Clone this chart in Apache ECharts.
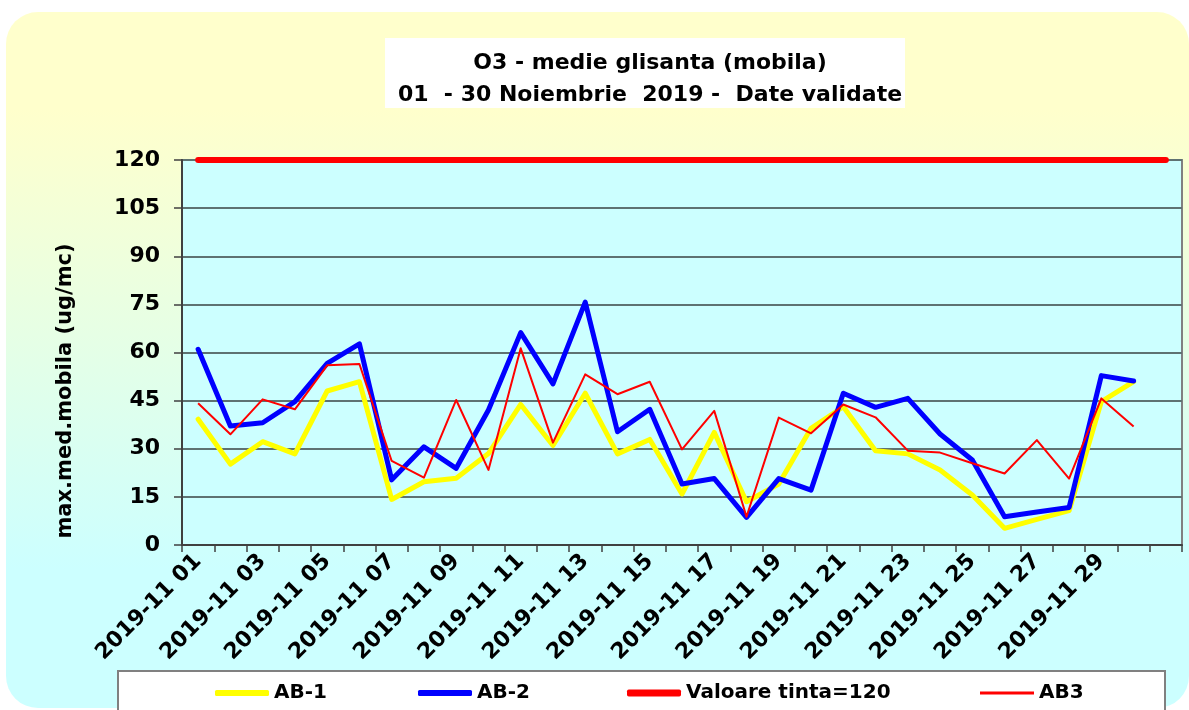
<!DOCTYPE html>
<html>
<head>
<meta charset="utf-8">
<script src="https://cdn.jsdelivr.net/npm/echarts@6/dist/echarts.min.js"></script>
<style>
  html, body { margin: 0; padding: 0; background: #ffffff; }
  #main { width: 1189px; height: 710px; }
</style>
</head>
<body>
<div id="main"></div>
<script>
// zilele din noiembrie (ultima pozitie ramane goala, ca in grafic)
const days = [
  '2019-11 01', '2019-11 02', '2019-11 03', '2019-11 04', '2019-11 05', '2019-11 06',
  '2019-11 07', '2019-11 08', '2019-11 09', '2019-11 10', '2019-11 11', '2019-11 12',
  '2019-11 13', '2019-11 14', '2019-11 15', '2019-11 16', '2019-11 17', '2019-11 18',
  '2019-11 19', '2019-11 20', '2019-11 21', '2019-11 22', '2019-11 23', '2019-11 24',
  '2019-11 25', '2019-11 26', '2019-11 27', '2019-11 28', '2019-11 29', '2019-11 30', ''
];

// max. medie mobila (ug/mc) pe statii
const ab1 = [39.2, 25.2, 32.2, 28.4, 48.0, 50.9, 14.2, 19.7, 20.8, 28.5,
             43.8, 31.0, 47.3, 28.4, 32.9, 15.9, 35.1, 13.5, 19.0, 36.4,
             43.1, 29.4, 28.4, 23.4, 15.6, 5.2, 8.0, 10.7, 44.7, 50.9];
const ab2 = [61.0, 37.1, 38.1, 44.7, 56.6, 62.7, 20.3, 30.6, 23.9, 42.1,
             66.2, 50.2, 75.7, 35.3, 42.3, 19.0, 20.7, 8.6, 20.7, 17.1,
             47.3, 42.9, 45.7, 34.6, 26.5, 8.8, 10.3, 11.7, 52.8, 51.1];
const ab3 = [44.2, 34.5, 45.4, 42.3, 56.0, 56.4, 26.2, 21.0, 45.2, 23.4,
             61.3, 31.9, 53.2, 47.0, 50.9, 29.8, 41.8, 8.8, 39.7, 34.8,
             43.8, 39.8, 29.4, 28.8, 25.5, 22.3, 32.7, 20.7, 45.7, 36.9];
// valoare tinta
const tinta = [120, 120, 120, 120, 120, 120, 120, 120, 120, 120,
               120, 120, 120, 120, 120, 120, 120, 120, 120, 120,
               120, 120, 120, 120, 120, 120, 120, 120, 120, 120, 120];

const FONT = 'DejaVu Sans';

const chart = echarts.init(document.getElementById('main'));

const legendText = { fontFamily: FONT, fontWeight: 'bold', fontSize: 20, color: '#000' };
const makeLegend = (name, left, h, icon) => ({
  data: [name],
  left: left,
  top: 678,
  icon: icon,
  itemWidth: 54,
  itemHeight: h,
  itemStyle: { borderWidth: 0 },
  textStyle: legendText,
  z: 20
});

const option = {
  animation: false,
  backgroundColor: 'transparent',
  title: {
    text: 'O3 - medie glisanta (mobila)\n01  - 30 Noiembrie  2019 -  Date validate',
    left: 645,
    top: 42,
    textAlign: 'center',
    textStyle: { fontFamily: FONT, fontWeight: 'bold', fontSize: 22, lineHeight: 32, color: '#000' },
    z: 20
  },
  graphic: [
    {
      // fundalul rotunjit (galben -> turcoaz)
      type: 'rect', z: -100, silent: true,
      shape: { x: 6, y: 12, width: 1183, height: 696, r: 32 },
      style: {
        fill: new echarts.graphic.LinearGradient(0, 0, 0, 1, [
          { offset: 0, color: '#FFFFCC' },
          { offset: 0.14, color: '#FFFFCC' },
          { offset: 0.8, color: '#CCFFFF' },
          { offset: 1, color: '#CCFFFF' }
        ])
      }
    },
    {
      // caseta titlului
      type: 'rect', z: 5, silent: true,
      shape: { x: 385, y: 38, width: 520, height: 70 },
      style: { fill: '#ffffff' }
    },
    {
      // caseta legendei
      type: 'rect', z: 5, silent: true,
      shape: { x: 118, y: 671, width: 1047, height: 60 },
      style: { fill: '#ffffff', stroke: '#808080', lineWidth: 2 }
    },
    {
      // titlul axei Y
      type: 'text', z: 20, silent: true,
      x: 66, y: 391, rotation: Math.PI / 2,
      style: {
        text: 'max.med.mobila (ug/mc)',
        fontFamily: FONT, fontWeight: 'bold', fontSize: 21, fill: '#000',
        align: 'center', verticalAlign: 'middle'
      }
    }
  ],
  legend: [
    makeLegend('AB-1', 210, 6, 'roundRect'),
    makeLegend('AB-2', 413, 6, 'roundRect'),
    makeLegend('Valoare tinta=120', 622, 7, 'roundRect'),
    makeLegend('AB3', 975, 3, 'rect')
  ],
  grid: {
    left: 182,
    right: 7,
    top: 160,
    bottom: 165,
    show: true,
    backgroundColor: '#CCFFFF',
    borderColor: '#808080',
    borderWidth: 2
  },
  xAxis: {
    type: 'category',
    data: days,
    boundaryGap: true,
    axisLine: { lineStyle: { color: '#404040', width: 2 } },
    axisTick: { show: true, interval: 0, length: 7, lineStyle: { color: '#404040', width: 1.5 } },
    axisLabel: {
      interval: 1,
      rotate: 45,
      margin: 13,
      fontFamily: FONT,
      fontWeight: 'bold',
      fontSize: 22,
      color: '#000'
    }
  },
  yAxis: {
    type: 'value',
    min: 0,
    max: 120,
    interval: 15,
    axisLine: { show: true, lineStyle: { color: '#404040', width: 2 } },
    axisTick: { show: true, length: 8, lineStyle: { color: '#404040', width: 1.5 } },
    axisLabel: { margin: 22, fontFamily: FONT, fontWeight: 'bold', fontSize: 22, color: '#000' },
    splitLine: { show: true, lineStyle: { color: '#5E7272', width: 2 } }
  },
  series: [
    {
      name: 'AB-1', type: 'line', data: ab1,
      showSymbol: false, symbol: 'none',
      color: '#FFFF00',
      lineStyle: { color: '#FFFF00', width: 5, cap: 'round', join: 'round' }
    },
    {
      name: 'AB-2', type: 'line', data: ab2,
      showSymbol: false, symbol: 'none',
      color: '#0000FF',
      lineStyle: { color: '#0000FF', width: 5, cap: 'round', join: 'round' }
    },
    {
      name: 'Valoare tinta=120', type: 'line', data: tinta,
      showSymbol: false, symbol: 'none',
      color: '#FF0000',
      lineStyle: { color: '#FF0000', width: 6, cap: 'round' }
    },
    {
      name: 'AB3', type: 'line', data: ab3,
      showSymbol: false, symbol: 'none',
      color: '#FF0000',
      lineStyle: { color: '#FF0000', width: 2, join: 'round' }
    }
  ]
};

chart.setOption(option);
</script>
</body>
</html>
